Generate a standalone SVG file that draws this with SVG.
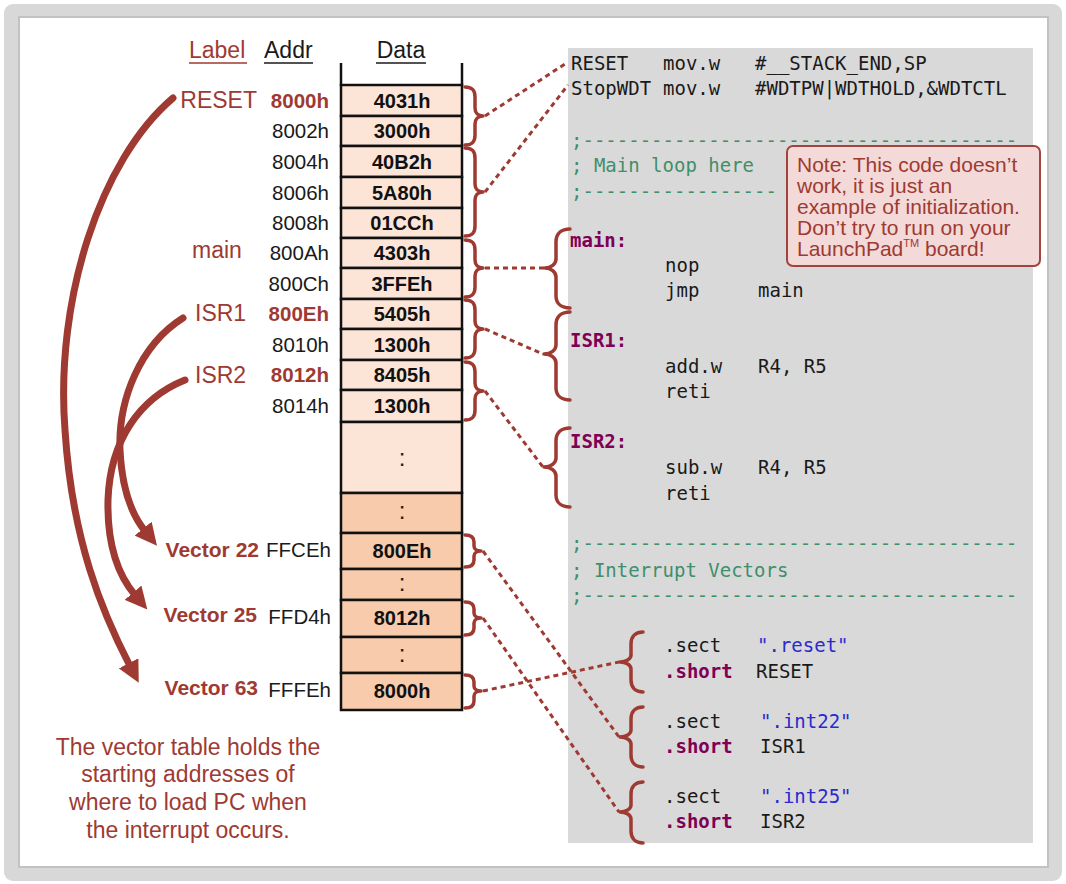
<svg xmlns="http://www.w3.org/2000/svg" width="1066" height="884" viewBox="0 0 1066 884">
<defs>
<style>
.lbl{font-family:"Liberation Sans",Arial,sans-serif;font-size:23px;fill:#9e3a32}
.hdr{font-family:"Liberation Sans",Arial,sans-serif;font-size:23px;fill:#1a1a1a}
.addr{font-family:"Liberation Sans",Arial,sans-serif;font-size:20.5px;fill:#1a1a1a;text-anchor:end}
.addrb{font-family:"Liberation Sans",Arial,sans-serif;font-size:20.5px;font-weight:bold;fill:#9e3a32;text-anchor:end}
.data{font-family:"Liberation Sans",Arial,sans-serif;font-size:20px;font-weight:bold;fill:#111;text-anchor:middle}
.dots{font-family:"Liberation Sans",Arial,sans-serif;font-size:24px;fill:#222;text-anchor:middle}
.vec{font-family:"Liberation Sans",Arial,sans-serif;font-size:21px;font-weight:bold;fill:#9e3a32;text-anchor:end}
.code{font-family:"DejaVu Sans Mono","Liberation Mono",monospace;font-size:19px;fill:#1a1a1a}
.cm{fill:#3f8f6a}
.kw{fill:#7f0055;font-weight:bold}
.str{fill:#2a2ad0}
.cell{stroke:#111;stroke-width:2.5}
.lt{fill:#fce4d6}
.dk{fill:#f8cbad}
.brace{fill:none;stroke:#9e3a32;stroke-width:3.5;stroke-linecap:round;stroke-linejoin:round}
.dash{fill:none;stroke:#9e3a32;stroke-width:3;stroke-dasharray:5 4}
.arc{fill:none;stroke:#9e3a32;stroke-width:7;stroke-linecap:round}
.note{font-family:"Liberation Sans",Arial,sans-serif;font-size:21px;fill:#9e3a32}
.cap{font-family:"Liberation Sans",Arial,sans-serif;font-size:23px;fill:#9e3a32;text-anchor:middle}
</style>
<marker id="ah" viewBox="0 0 22 22" markerWidth="22" markerHeight="22" markerUnits="userSpaceOnUse" refX="3" refY="11" orient="auto">
<path d="M0,0 L22,11 L0,22 z" fill="#9e3a32"/>
</marker>
</defs>

<g id="frame">
<rect x="4" y="4" width="1058" height="877" rx="9" fill="#d8d8d8"/>
<rect x="19" y="17" width="1029" height="850" fill="#ffffff" stroke="#c2c2c2" stroke-width="2"/>
</g>

<g id="code-panel">
<rect x="568" y="48" width="465" height="795" fill="#d9d9d9"/>
</g>

<g id="headers">
<text class="lbl" x="189" y="58">Label</text>
<line x1="189" y1="63" x2="247" y2="63" stroke="#9e3a32" stroke-width="1.5"/>
<text class="hdr" x="264" y="58">Addr</text>
<line x1="264" y1="63" x2="313" y2="63" stroke="#1a1a1a" stroke-width="1.5"/>
<text class="hdr" x="401" y="58" text-anchor="middle">Data</text>
<line x1="376" y1="63" x2="426" y2="63" stroke="#1a1a1a" stroke-width="1.5"/>
</g>

<g id="memory">
<line x1="341" y1="63" x2="341" y2="86" stroke="#111" stroke-width="2.5"/>
<line x1="462" y1="63" x2="462" y2="86" stroke="#111" stroke-width="2.5"/>
<rect class="cell lt" x="341" y="85" width="121" height="31"/>
<rect class="cell lt" x="341" y="116" width="121" height="30"/>
<rect class="cell lt" x="341" y="146" width="121" height="31"/>
<rect class="cell lt" x="341" y="177" width="121" height="31"/>
<rect class="cell lt" x="341" y="208" width="121" height="30"/>
<rect class="cell lt" x="341" y="238" width="121" height="30"/>
<rect class="cell lt" x="341" y="268" width="121" height="31"/>
<rect class="cell lt" x="341" y="299" width="121" height="30"/>
<rect class="cell lt" x="341" y="329" width="121" height="31"/>
<rect class="cell lt" x="341" y="360" width="121" height="30"/>
<rect class="cell lt" x="341" y="390" width="121" height="32"/>
<rect class="cell lt" x="341" y="422" width="121" height="71"/>
<rect class="cell dk" x="341" y="493" width="121" height="40"/>
<rect class="cell dk" x="341" y="533" width="121" height="36"/>
<rect class="cell dk" x="341" y="569" width="121" height="31"/>
<rect class="cell dk" x="341" y="600" width="121" height="37"/>
<rect class="cell dk" x="341" y="637" width="121" height="36"/>
<rect class="cell dk" x="341" y="673" width="121" height="37"/>
<text class="data" x="402" y="108">4031h</text>
<text class="data" x="402" y="138">3000h</text>
<text class="data" x="402" y="169">40B2h</text>
<text class="data" x="402" y="200">5A80h</text>
<text class="data" x="402" y="230">01CCh</text>
<text class="data" x="402" y="260">4303h</text>
<text class="data" x="402" y="291">3FFEh</text>
<text class="data" x="402" y="321">5405h</text>
<text class="data" x="402" y="352">1300h</text>
<text class="data" x="402" y="382">8405h</text>
<text class="data" x="402" y="413">1300h</text>
<text class="dots" x="402" y="466">:</text>
<text class="dots" x="402" y="519">:</text>
<text class="data" x="402" y="558">800Eh</text>
<text class="dots" x="402" y="591">:</text>
<text class="data" x="402" y="625">8012h</text>
<text class="dots" x="402" y="662">:</text>
<text class="data" x="402" y="698">8000h</text>
</g>

<g id="addresses">
<text class="addrb" x="329" y="108">8000h</text>
<text class="addr" x="329" y="138">8002h</text>
<text class="addr" x="329" y="169">8004h</text>
<text class="addr" x="329" y="200">8006h</text>
<text class="addr" x="329" y="230">8008h</text>
<text class="addr" x="329" y="260">800Ah</text>
<text class="addr" x="329" y="291">800Ch</text>
<text class="addrb" x="329" y="321">800Eh</text>
<text class="addr" x="329" y="352">8010h</text>
<text class="addrb" x="329" y="382">8012h</text>
<text class="addr" x="329" y="413">8014h</text>
<text class="addr" x="331" y="557">FFCEh</text>
<text class="addr" x="331" y="624">FFD4h</text>
<text class="addr" x="331" y="697">FFFEh</text>
</g>

<g id="labels">
<text class="lbl" x="257" y="108" text-anchor="end">RESET</text>
<text class="lbl" x="192" y="258">main</text>
<text class="lbl" x="195" y="321">ISR1</text>
<text class="lbl" x="195" y="383">ISR2</text>
<text class="vec" x="259" y="557">Vector 22</text>
<text class="vec" x="257" y="622">Vector 25</text>
<text class="vec" x="258" y="695">Vector 63</text>
</g>

<g id="code" class="code">
<text x="571" y="70"><tspan>RESET</tspan><tspan x="663">mov.w</tspan><tspan x="755">#__STACK_END,SP</tspan></text>
<text x="571" y="95"><tspan>StopWDT</tspan><tspan x="663">mov.w</tspan><tspan x="755">#WDTPW|WDTHOLD,&amp;WDTCTL</tspan></text>
<text class="cm" x="571" y="147">;--------------------------------------</text>
<text class="cm" x="571" y="172">; Main loop here</text>
<text class="cm" x="571" y="198">;-----------------</text>
<text class="kw" x="570" y="247">main:</text>
<text x="665" y="272">nop</text>
<text x="665" y="297"><tspan>jmp</tspan><tspan x="758">main</tspan></text>
<text class="kw" x="570" y="347">ISR1:</text>
<text x="665" y="373"><tspan>add.w</tspan><tspan x="758">R4, R5</tspan></text>
<text x="665" y="398">reti</text>
<text class="kw" x="570" y="448">ISR2:</text>
<text x="665" y="474"><tspan>sub.w</tspan><tspan x="758">R4, R5</tspan></text>
<text x="665" y="500">reti</text>
<text class="cm" x="571" y="550">;--------------------------------------</text>
<text class="cm" x="571" y="577">; Interrupt Vectors</text>
<text class="cm" x="571" y="602">;--------------------------------------</text>
<text x="664" y="652"><tspan>.sect</tspan><tspan class="str" x="757">".reset"</tspan></text>
<text x="664" y="678"><tspan class="kw">.short</tspan><tspan x="756">RESET</tspan></text>
<text x="664" y="728"><tspan>.sect</tspan><tspan class="str" x="760">".int22"</tspan></text>
<text x="664" y="753"><tspan class="kw">.short</tspan><tspan x="760">ISR1</tspan></text>
<text x="664" y="803"><tspan>.sect</tspan><tspan class="str" x="760">".int25"</tspan></text>
<text x="664" y="828"><tspan class="kw">.short</tspan><tspan x="760">ISR2</tspan></text>
</g>

<g id="note">
<rect x="787" y="146" width="253" height="120" rx="6" fill="#f3d9d7" stroke="#a0453e" stroke-width="2"/>
<text class="note" x="797" y="172">Note: This code doesn’t</text>
<text class="note" x="797" y="193">work, it is just an</text>
<text class="note" x="797" y="214">example of initialization.</text>
<text class="note" x="797" y="235">Don’t try to run on your</text>
<text class="note" x="797" y="256">LaunchPad<tspan font-size="11" dy="-9">TM</tspan><tspan dy="9"> board!</tspan></text>
</g>

<g id="braces">
<path class="brace" d="M465,87 C472,87 475,90 475,97 L475,108 C475,113 478,116 483,116 C478,116 475,119 475,124 L475,135 C475,142 472,145 465,145"/>
<path class="brace" d="M465,148 C472,148 475,151 475,158 L475,184 C475,189 478,192 483,192 C478,192 475,195 475,200 L475,226 C475,233 472,236 465,236"/>
<path class="brace" d="M465,240 C472,240 475,243 475,250 L475,260 C475,265 478,268 483,268 C478,268 475,271 475,276 L475,287 C475,294 472,297 465,297"/>
<path class="brace" d="M465,300 C472,300 475,303 475,310 L475,321 C475,326 478,329 483,329 C478,329 475,332 475,337 L475,348 C475,355 472,358 465,358"/>
<path class="brace" d="M465,362 C472,362 475,365 475,372 L475,383 C475,388 478,391 483,391 C478,391 475,394 475,399 L475,410 C475,417 472,420 465,420"/>
<path class="brace" d="M465,535 C471,535 474,537 474,542 L474,546 C474,549 477,551 481,551 C477,551 474,553 474,556 L474,560 C474,565 471,567 465,567"/>
<path class="brace" d="M465,602 C471,602 474,604 474,609 L474,613 C474,616 477,618 481,618 C477,618 474,620 474,623 L474,628 C474,633 471,635 465,635"/>
<path class="brace" d="M465,675 C471,675 474,677 474,682 L474,686 C474,689 477,691 481,691 C477,691 474,693 474,696 L474,701 C474,706 471,708 465,708"/>
<path class="brace" d="M570,229 C562,229 556,233 556,242 L556,259 C556,264 551,268 545,268 C551,268 556,272 556,277 L556,296 C556,304 562,308 570,308"/>
<path class="brace" d="M570,312 C562,312 556,316 556,325 L556,345 C556,350 551,354 544,354 C551,354 556,358 556,363 L556,388 C556,396 562,400 570,400"/>
<path class="brace" d="M570,428 C562,428 556,432 556,441 L556,458 C556,463 551,467 544,467 C551,467 556,471 556,476 L556,495 C556,503 562,507 570,507"/>
<path class="brace" d="M643,632 C636,632 631,636 631,644 L631,655 C631,659 626,662 620,662 C626,662 631,665 631,669 L631,680 C631,688 636,692 643,692"/>
<path class="brace" d="M643,707 C636,707 631,711 631,719 L631,730 C631,734 626,737 620,737 C626,737 631,740 631,744 L631,755 C631,763 636,767 643,767"/>
<path class="brace" d="M643,782 C636,782 631,786 631,794 L631,805 C631,809 626,812 620,812 C626,812 631,815 631,819 L631,831 C631,839 636,843 643,843"/>
</g>

<g id="connectors">
<line class="dash" x1="485" y1="116" x2="568" y2="62"/>
<line class="dash" x1="485" y1="192" x2="568" y2="85"/>
<line class="dash" x1="485" y1="268" x2="544" y2="268"/>
<line class="dash" x1="485" y1="329" x2="543" y2="354"/>
<line class="dash" x1="485" y1="391" x2="543" y2="467"/>
<line class="dash" x1="483" y1="551" x2="619" y2="737"/>
<line class="dash" x1="483" y1="618" x2="619" y2="812"/>
<line class="dash" x1="483" y1="691" x2="619" y2="662"/>
<path class="arc" marker-end="url(#ah)" d="M173,98 C100,160 55,300 65,430 C72,540 102,612 130,666"/>
<path class="arc" marker-end="url(#ah)" d="M183,318 C140,345 118,400 120,450 C122,490 132,515 145,531"/>
<path class="arc" marker-end="url(#ah)" d="M185,380 C140,398 110,440 108,500 C107,545 118,575 135,595"/>
</g>

<g id="caption">
<text class="cap" x="188" y="755">The vector table holds the</text>
<text class="cap" x="188" y="782">starting addresses of</text>
<text class="cap" x="188" y="810">where to load PC when</text>
<text class="cap" x="188" y="838">the interrupt occurs.</text>
</g>
</svg>
